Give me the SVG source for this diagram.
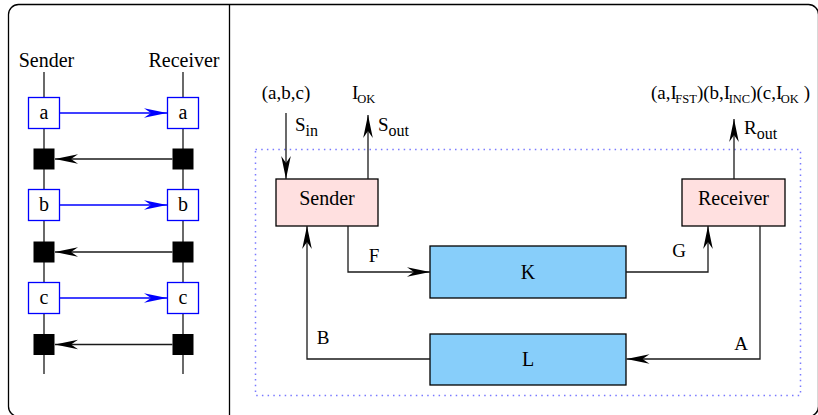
<svg xmlns="http://www.w3.org/2000/svg" width="818" height="415" viewBox="0 0 818 415">
<style>
text{font-family:"Liberation Serif","Times New Roman",serif;fill:#000;}
.t{font-size:19px;}
.lbl{font-size:20px;text-anchor:middle;}
.sub{font-size:16px;}
.ss{font-size:12.5px;}
.line{stroke:#1a1a1a;stroke-width:1.3;fill:none;}
.bline{stroke:#0000ff;stroke-width:1.3;fill:none;}
.bbox{fill:#fff;stroke:#0000ff;stroke-width:1.3;}
.blk{fill:#000;}
.pink{fill:#ffe0e0;stroke:#000;stroke-width:1.3;}
.sky{fill:#87cefa;stroke:#000;stroke-width:1.3;}
</style>
<defs>
<marker id="ah" markerUnits="userSpaceOnUse" markerWidth="26" markerHeight="12" viewBox="-24 -6 26 12" refX="0" refY="0" orient="auto">
<path d="M0,0 L-23,-4.8 L-16,0 L-23,4.8 Z" fill="#000"/>
</marker>
<marker id="ahb" markerUnits="userSpaceOnUse" markerWidth="26" markerHeight="12" viewBox="-24 -6 26 12" refX="0" refY="0" orient="auto">
<path d="M0,0 L-23,-4.8 L-16,0 L-23,4.8 Z" fill="#0000ff"/>
</marker>
</defs>

<g id="frame">
<rect x="8.5" y="4.5" width="810" height="412" rx="10" fill="none" stroke="#000" stroke-width="1.3"/>
<line x1="229.5" y1="4.5" x2="229.5" y2="415" stroke="#000" stroke-width="1.3"/>
</g>

<g id="msc">
<text class="lbl" x="46.5" y="67">Sender</text>
<text class="lbl" x="184" y="67">Receiver</text>
<line class="line" x1="44" y1="72" x2="44" y2="374"/>
<line class="line" x1="183" y1="72" x2="183" y2="374"/>
<g id="sa"><rect class="bbox" x="28.5" y="97.5" width="31" height="31"/><text class="lbl" x="44" y="119">a</text></g>
<g id="ra"><rect class="bbox" x="167.5" y="97.5" width="31" height="31"/><text class="lbl" x="183" y="119">a</text></g>
<g id="sk1"><rect class="blk" x="33.5" y="148.5" width="21" height="21"/></g>
<g id="rk1"><rect class="blk" x="172.5" y="148.5" width="21" height="21"/></g>
<g id="sb"><rect class="bbox" x="28.5" y="189.5" width="31" height="31"/><text class="lbl" x="44" y="211">b</text></g>
<g id="rb"><rect class="bbox" x="167.5" y="189.5" width="31" height="31"/><text class="lbl" x="183" y="211">b</text></g>
<g id="sk2"><rect class="blk" x="33.5" y="241.5" width="21" height="21"/></g>
<g id="rk2"><rect class="blk" x="172.5" y="241.5" width="21" height="21"/></g>
<g id="sc"><rect class="bbox" x="28.5" y="282.5" width="31" height="31"/><text class="lbl" x="44" y="304">c</text></g>
<g id="rc"><rect class="bbox" x="167.5" y="282.5" width="31" height="31"/><text class="lbl" x="183" y="304">c</text></g>
<g id="sk3"><rect class="blk" x="33.5" y="334" width="21" height="21"/></g>
<g id="rk3"><rect class="blk" x="172.5" y="334" width="21" height="21"/></g>
</g>

<g id="msc-connectors">
<line class="bline" x1="59.5" y1="113" x2="167" y2="113" marker-end="url(#ahb)"/>
<line class="line" x1="172.5" y1="159" x2="55" y2="159" marker-end="url(#ah)"/>
<line class="bline" x1="59.5" y1="205" x2="167" y2="205" marker-end="url(#ahb)"/>
<line class="line" x1="172.5" y1="252" x2="55" y2="252" marker-end="url(#ah)"/>
<line class="bline" x1="59.5" y1="298" x2="167" y2="298" marker-end="url(#ahb)"/>
<line class="line" x1="172.5" y1="344.5" x2="55" y2="344.5" marker-end="url(#ah)"/>
</g>

<g id="system">
<rect x="255.5" y="149.5" width="545" height="246" fill="none" stroke="#7a7aff" stroke-width="1.5" stroke-dasharray="1.5 4.2"/>
</g>

<g id="labels">
<text class="t" x="286" y="99" text-anchor="middle">(a,b,c)</text>
<text class="t" x="352" y="99">I<tspan class="ss" dx="-1" dy="4">OK</tspan></text>
<text class="t" x="295" y="131">S<tspan class="sub" dy="5">in</tspan></text>
<text class="t" x="378" y="131">S<tspan class="sub" dy="5">out</tspan></text>
<text class="t" x="651" y="99">(a,I<tspan class="ss" dx="-1.5" dy="4">FST</tspan><tspan dy="-4">)(b,I</tspan><tspan class="ss" dx="-1.5" dy="4">INC</tspan><tspan dy="-4">)(c,I</tspan><tspan class="ss" dx="-1.5" dy="4">OK</tspan><tspan dy="-4"> )</tspan></text>
<text class="t" x="744" y="134">R<tspan class="sub" dy="5">out</tspan></text>
<text class="t" x="374" y="262" text-anchor="middle">F</text>
<text class="t" x="679" y="257" text-anchor="middle">G</text>
<text class="t" x="741" y="350" text-anchor="middle">A</text>
<text class="t" x="323" y="344" text-anchor="middle">B</text>
</g>

<g id="sender"><rect class="pink" x="276" y="179" width="102" height="47"/><text class="lbl" x="327" y="205">Sender</text></g>
<g id="receiver"><rect class="pink" x="682" y="179" width="103" height="47"/><text class="lbl" x="733.5" y="205">Receiver</text></g>
<g id="K"><rect class="sky" x="430" y="246" width="196" height="52"/><text class="lbl" x="528" y="279">K</text></g>
<g id="L"><rect class="sky" x="430" y="334" width="196" height="51"/><text class="lbl" x="528" y="366">L</text></g>

<g id="connectors">
<line class="line" x1="286" y1="113" x2="286" y2="179" marker-end="url(#ah)"/>
<line class="line" x1="368" y1="179" x2="368" y2="115" marker-end="url(#ah)"/>
<line class="line" x1="734" y1="179" x2="734" y2="119" marker-end="url(#ah)"/>
<polyline class="line" points="348,226 348,272 430,272" marker-end="url(#ah)"/>
<polyline class="line" points="626,272 708,272 708,226" marker-end="url(#ah)"/>
<polyline class="line" points="760,226 760,359 626.5,359" marker-end="url(#ah)"/>
<polyline class="line" points="430,359 307,359 307,226" marker-end="url(#ah)"/>
</g>
</svg>
